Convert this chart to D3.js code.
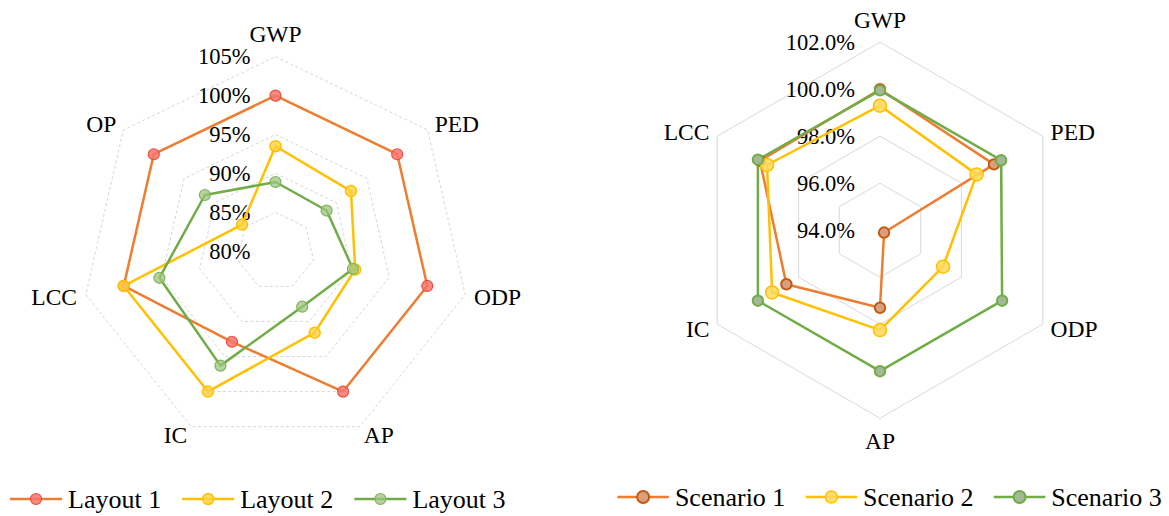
<!DOCTYPE html>
<html>
<head>
<meta charset="utf-8">
<script src="https://cdn.jsdelivr.net/npm/d3@7"></script>
<style>
  html, body { margin: 0; padding: 0; background: #ffffff; }
  svg { display: block; }
  text { font-family: "Liberation Serif", "Times New Roman", serif; fill: #000; }
</style>
</head>
<body>
<svg id="chart" width="1169" height="516"></svg>
<script>
// ---------- DATA ----------
const leftAxes = ["GWP", "PED", "ODP", "AP", "IC", "LCC", "OP"];
const leftSeriesNames = ["Layout 1", "Layout 2", "Layout 3"];
const layout1 = [100.0, 100.0, 100.0, 100.0, 92.9, 100.0, 100.0];
const layout2 = [93.5, 92.4, 90.5, 91.6, 100.0, 100.0, 85.5];
const layout3 = [88.9, 88.4, 90.2, 87.9, 96.3, 95.3, 91.6];
const leftTicks = [80, 85, 90, 95, 100, 105];
const leftTickLabels = ["80%", "85%", "90%", "95%", "100%", "105%"];

const rightAxes = ["GWP", "PED", "ODP", "AP", "IC", "LCC"];
const rightSeriesNames = ["Scenario 1", "Scenario 2", "Scenario 3"];
const scenario1 = [100.0, 99.6, 94.2, 97.3, 98.6, 99.9];
const scenario2 = [99.3, 98.75, 97.1, 98.25, 99.3, 99.55];
const scenario3 = [99.95, 99.95, 100.0, 100.0, 100.0, 100.0];
const rightTicks = [94, 96, 98, 100, 102];
const rightTickLabels = ["94.0%", "96.0%", "98.0%", "100.0%", "102.0%"];

// ---------- STYLE / LAYOUT ----------
const svg = d3.select("#chart");

const charts = [
  {
    axes: leftAxes, series: [layout1, layout2, layout3], names: leftSeriesNames,
    ticks: leftTicks, tickLabels: leftTickLabels,
    cx: 275.5, cy: 251.3, R: 194.6,
    gridDash: "3,2.5", gridColor: "#d6d6d6",
    tickFont: 22.5, axisFont: 23.5, legendFont: 26,
    lineColors: ["#ED7D31", "#FFC000", "#70AD47"],
    markerFill: ["#F7746B", "#FFD23F", "#9CC47F"],
    markerFillOpacity: [0.85, 0.8, 0.75],
    markerStroke: ["#E8503E", "#FFC000", "#7FB35A"],
    markerR: [5.5, 5.5, 5.5], markerSW: [1.2, 1.5, 1.2],
    legendX: 10, legendStep: 172.2, legendY: 499, legendLine: 52, legendMarkerR: 5.5
  },
  {
    axes: rightAxes, series: [scenario1, scenario2, scenario3], names: rightSeriesNames,
    ticks: rightTicks, tickLabels: rightTickLabels,
    cx: 880, cy: 230.2, R: 188,
    gridDash: null, gridColor: "#d9d9d9",
    tickFont: 22.5, axisFont: 23.5, legendFont: 26,
    lineColors: ["#ED7D31", "#FFC000", "#70AD47"],
    markerFill: ["#D9A07F", "#FFD95A", "#A4B896"],
    markerFillOpacity: [1, 0.85, 1],
    markerStroke: ["#C55A11", "#FFC000", "#70AD47"],
    markerR: [5.2, 6.5, 5.2], markerSW: [2, 1.5, 2],
    legendX: 617.4, legendStep: 188.2, legendY: 497, legendLine: 51.5, legendMarkerR: 6
  }
];

charts.forEach(cfg => {
  const n = cfg.axes.length;
  const minV = d3.min(cfg.ticks), maxV = d3.max(cfg.ticks);
  const r = d3.scaleLinear().domain([minV, maxV]).range([0, cfg.R]);
  const ang = d3.scaleLinear().domain([0, n]).range([-Math.PI / 2, 1.5 * Math.PI]);
  const px = (i, v) => cfg.cx + r(v) * Math.cos(ang(i));
  const py = (i, v) => cfg.cy + r(v) * Math.sin(ang(i));

  const g = svg.append("g");

  // grid rings
  const ring = d3.line().x(d => d[0]).y(d => d[1]).curve(d3.curveLinearClosed);
  cfg.ticks.filter(t => t > minV).forEach(t => {
    const pts = d3.range(n).map(i => [px(i, t), py(i, t)]);
    g.append("path").attr("d", ring(pts))
      .attr("fill", "none").attr("stroke", cfg.gridColor).attr("stroke-width", 1)
      .attr("stroke-dasharray", cfg.gridDash);
  });

  // tick labels
  cfg.ticks.forEach((t, k) => {
    g.append("text")
      .attr("x", cfg.cx - 25).attr("y", cfg.cy - r(t))
      .attr("text-anchor", "end").attr("dominant-baseline", "central")
      .attr("font-size", cfg.tickFont).text(cfg.tickLabels[k]);
  });

  // axis labels
  cfg.axes.forEach((name, i) => {
    const a = ang(i), c = Math.cos(a), s = Math.sin(a);
    let x, y, anchor;
    if (Math.abs(c) < 0.1) {
      x = px(i, maxV); y = py(i, maxV) + (s < 0 ? -22.5 : 22.5); anchor = "middle";
    } else {
      x = cfg.cx + (cfg.R + 9) * c; y = cfg.cy + (cfg.R + 9) * s;
      anchor = c > 0 ? "start" : "end";
    }
    g.append("text").attr("x", x).attr("y", y)
      .attr("text-anchor", anchor).attr("dominant-baseline", "central")
      .attr("font-size", cfg.axisFont).text(name);
  });

  // series lines
  cfg.series.forEach((vals, si) => {
    const pts = vals.map((v, i) => [px(i, v), py(i, v)]);
    g.append("path").attr("d", ring(pts))
      .attr("fill", "none").attr("stroke", cfg.lineColors[si])
      .attr("stroke-width", 2.5).attr("stroke-linejoin", "round");
  });
  // markers
  cfg.series.forEach((vals, si) => {
    g.selectAll(null).data(vals).enter().append("circle")
      .attr("cx", (v, i) => px(i, v)).attr("cy", (v, i) => py(i, v))
      .attr("r", cfg.markerR[si])
      .attr("fill", cfg.markerFill[si]).attr("fill-opacity", cfg.markerFillOpacity[si])
      .attr("stroke", cfg.markerStroke[si]).attr("stroke-width", cfg.markerSW[si]);
  });

  // legend
  cfg.names.forEach((name, si) => {
    const x0 = cfg.legendX + si * cfg.legendStep;
    const lg = g.append("g");
    lg.append("line").attr("x1", x0).attr("x2", x0 + cfg.legendLine)
      .attr("y1", cfg.legendY).attr("y2", cfg.legendY)
      .attr("stroke", cfg.lineColors[si]).attr("stroke-width", 2.5);
    lg.append("circle").attr("cx", x0 + cfg.legendLine / 2).attr("cy", cfg.legendY)
      .attr("r", cfg.legendMarkerR)
      .attr("fill", cfg.markerFill[si]).attr("fill-opacity", cfg.markerFillOpacity[si])
      .attr("stroke", cfg.markerStroke[si]).attr("stroke-width", cfg.markerSW[si]);
    lg.append("text").attr("x", x0 + cfg.legendLine + 6).attr("y", cfg.legendY)
      .attr("dominant-baseline", "central").attr("font-size", cfg.legendFont).text(name);
  });
});
</script>
</body>
</html>
